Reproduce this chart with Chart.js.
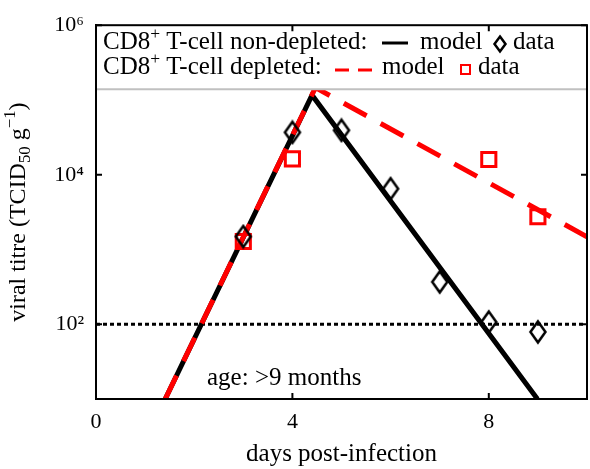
<!DOCTYPE html>
<html>
<head>
<meta charset="utf-8">
<script src="https://cdn.jsdelivr.net/npm/chart.js@4"></script>
<style>
  html, body { margin: 0; padding: 0; background: #fff; }
  canvas { display: block; }
</style>
</head>
<body>
<canvas id="grafico" width="590" height="469"></canvas>
<script>
const dataDays = [3, 4, 5, 6, 7, 8, 9];
const titreNonDepleted = [1490, 36900, 39300, 6500, 368, 107, 79];
const depletedDays = [3, 4, 8, 9];
const titreDepleted = [1280, 16300, 16000, 2740];
const modelDaysNonDepleted = [1.41, 4.4, 8.99];
const modelNonDepleted = [10, 116000, 10];
const modelDaysDepleted = [1.41, 4.47, 10];
const modelDepleted = [10, 146000, 1480];
const limitDays = [0, 10];
const limitTitre = [100, 100];
const xTicks = [0, 4, 8];
const yTicks = [1e2, 1e4, 1e6];
const yTickLabels = ["10²", "10⁴", "10⁶"];

const serif = "'Liberation Serif', 'DejaVu Serif', serif";
const RED = "#ff0000";

function pts(xs, ys) {
  return xs.map((x, i) => ({ x: x, y: ys[i] }));
}

// diamond marker, a bit taller than wide
function makeDiamond(w, h, lw) {
  const c = document.createElement("canvas");
  c.width = w + lw * 2;
  c.height = h + lw * 2;
  const g = c.getContext("2d");
  const cx = c.width / 2, cy = c.height / 2;
  g.lineWidth = lw;
  g.strokeStyle = "#000";
  g.beginPath();
  g.moveTo(cx, cy - h / 2);
  g.lineTo(cx + w / 2, cy);
  g.lineTo(cx, cy + h / 2);
  g.lineTo(cx - w / 2, cy);
  g.closePath();
  g.stroke();
  return c;
}

// text with super/subscripts: [text, 0 normal | 1 sup | -1 sub]
function drawRich(ctx, parts, x, y, size, measureOnly) {
  let w = 0;
  parts.forEach(([t, m]) => {
    const s = m ? size * 0.7 : size;
    ctx.font = s + "px " + serif;
    const dy = m === 1 ? -size * 0.4 : (m === -1 ? size * 0.22 : 0);
    if (!measureOnly) ctx.fillText(t, x + w, y + dy);
    w += ctx.measureText(t).width;
  });
  return w;
}

const extras = {
  id: "extras",
  afterDatasetsDraw(chart) {
    const ctx = chart.ctx;
    const a = chart.chartArea;
    const xs = chart.scales.x, ys = chart.scales.y;
    ctx.save();

    // legend box at top of plot
    ctx.fillStyle = "#fff";
    ctx.fillRect(a.left, a.top, a.right - a.left, 64);
    ctx.strokeStyle = "#c0c0c0";
    ctx.lineWidth = 2;
    ctx.beginPath();
    ctx.moveTo(a.left, a.top + 64);
    ctx.lineTo(a.right, a.top + 64);
    ctx.stroke();

    ctx.fillStyle = "#000";
    ctx.textBaseline = "alphabetic";
    ctx.textAlign = "left";
    drawRich(ctx, [["CD8", 0], ["+", 1], [" T-cell non-depleted:", 0]], 103, 49, 25);
    drawRich(ctx, [["CD8", 0], ["+", 1], [" T-cell depleted:", 0]], 103, 74, 25);

    ctx.strokeStyle = "#000";
    ctx.lineWidth = 3;
    ctx.beginPath();
    ctx.moveTo(382, 43);
    ctx.lineTo(408, 43);
    ctx.stroke();
    drawRich(ctx, [["model", 0]], 420, 49, 25);
    ctx.drawImage(makeDiamond(11, 15, 2.5), 492, 34);
    drawRich(ctx, [["data", 0]], 513, 49, 25);

    ctx.strokeStyle = RED;
    ctx.setLineDash([14, 9]);
    ctx.beginPath();
    ctx.moveTo(335, 70);
    ctx.lineTo(372, 70);
    ctx.stroke();
    ctx.setLineDash([]);
    drawRich(ctx, [["model", 0]], 382, 74, 25);
    ctx.lineWidth = 2;
    ctx.strokeRect(461, 65, 9, 9);
    drawRich(ctx, [["data", 0]], 478, 74, 25);

    // annotation
    drawRich(ctx, [["age: >9 months", 0]], 207, 385, 25);

    // y-axis title
    const yParts = [["viral titre (TCID", 0], ["50", -1], [" g", 0], ["−1", 1], [")", 0]];
    const tw = drawRich(ctx, yParts, 0, 0, 24, true);
    ctx.translate(25, (a.top + a.bottom) / 2);
    ctx.rotate(-Math.PI / 2);
    drawRich(ctx, yParts, -tw / 2, 0, 24);
    ctx.setTransform(1, 0, 0, 1, 0, 0);

    // frame and inward ticks
    ctx.strokeStyle = "#000";
    ctx.lineWidth = 2;
    ctx.strokeRect(a.left, a.top, a.right - a.left, a.bottom - a.top);
    ctx.beginPath();
    xTicks.forEach(v => {
      const px = xs.getPixelForValue(v);
      ctx.moveTo(px, a.bottom); ctx.lineTo(px, a.bottom - 6);
      ctx.moveTo(px, a.top); ctx.lineTo(px, a.top + 6);
    });
    yTicks.forEach(v => {
      const py = ys.getPixelForValue(v);
      ctx.moveTo(a.left, py); ctx.lineTo(a.left + 6, py);
      ctx.moveTo(a.right, py); ctx.lineTo(a.right - 6, py);
    });
    ctx.stroke();
    ctx.restore();
  }
};

const ctx = document.getElementById("grafico").getContext("2d");
new Chart(ctx, {
  type: "line",
  data: {
    datasets: [
      {
        label: "non-depleted data",
        data: pts(dataDays, titreNonDepleted),
        showLine: false,
        pointStyle: makeDiamond(15, 21, 2.5),
        pointRadius: 10,
        order: 0
      },
      {
        label: "depleted data",
        data: pts(depletedDays, titreDepleted),
        showLine: false,
        pointStyle: "rect",
        pointRadius: 10,
        borderColor: RED,
        backgroundColor: "rgba(0,0,0,0)",
        pointBorderWidth: 3,
        order: 0
      },
      {
        label: "depleted model",
        data: pts(modelDaysDepleted, modelDepleted),
        borderColor: RED,
        borderWidth: 5,
        borderDash: [26, 16],
        borderCapStyle: "butt",
        borderJoinStyle: "miter",
        pointRadius: 0,
        clip: 0,
        order: 1
      },
      {
        label: "non-depleted model",
        data: pts(modelDaysNonDepleted, modelNonDepleted),
        borderColor: "#000",
        borderWidth: 5,
        borderJoinStyle: "miter",
        pointRadius: 0,
        clip: 0,
        order: 2
      },
      {
        label: "detection limit",
        data: pts(limitDays, limitTitre),
        borderColor: "#000",
        borderWidth: 3,
        borderDash: [4, 3],
        pointRadius: 0,
        clip: 0,
        order: 3
      }
    ]
  },
  options: {
    responsive: false,
    animation: false,
    events: [],
    layout: { autoPadding: false, padding: { top: 21, right: 3, left: 0, bottom: 0 } },
    plugins: { legend: { display: false }, tooltip: { enabled: false } },
    scales: {
      x: {
        type: "linear",
        min: 0,
        max: 10,
        afterBuildTicks: s => { s.ticks = xTicks.map(v => ({ value: v })); },
        afterFit: s => { s.height = 70; },
        grid: { display: false, drawTicks: false },
        border: { display: true, color: "#000", width: 2 },
        ticks: { color: "#000", font: { family: serif, size: 22 }, padding: 10, maxRotation: 0 },
        title: {
          display: true,
          text: "days post-infection",
          color: "#000",
          font: { family: serif, size: 25 },
          padding: { top: 0, bottom: 0 }
        }
      },
      y: {
        type: "logarithmic",
        min: 10,
        max: 1e6,
        afterBuildTicks: s => { s.ticks = yTicks.map(v => ({ value: v })); },
        afterFit: s => { s.width = 96; },
        grid: { display: false, drawTicks: false },
        border: { display: true, color: "#000", width: 2 },
        ticks: {
          color: "#000",
          font: { family: serif, size: 22 },
          padding: 12,
          callback: (v) => yTickLabels[yTicks.indexOf(v)] || ""
        }
      }
    }
  },
  plugins: [extras]
});
</script>
</body>
</html>
